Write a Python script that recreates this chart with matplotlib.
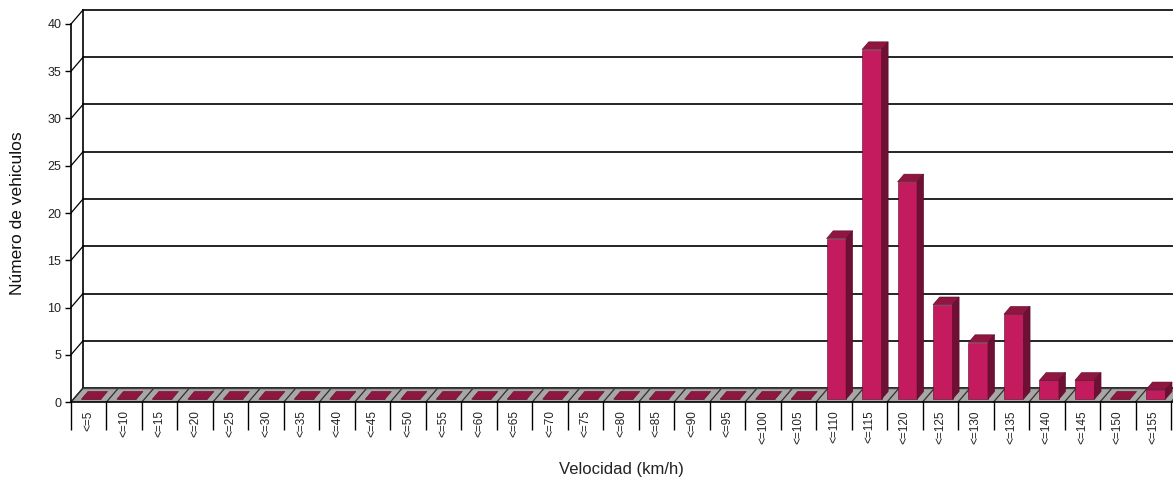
import matplotlib.pyplot as plt
import matplotlib.transforms as mtransforms
from matplotlib.patches import Polygon
import numpy as np

plt.rcParams['font.family'] = ['Liberation Sans', 'DejaVu Sans']

categories = ['<=5', '<=10', '<=15', '<=20', '<=25', '<=30', '<=35', '<=40', '<=45', '<=50',
              '<=55', '<=60', '<=65', '<=70', '<=75', '<=80', '<=85', '<=90', '<=95', '<=100',
              '<=105', '<=110', '<=115', '<=120', '<=125', '<=130', '<=135', '<=140', '<=145',
              '<=150', '<=155']
counts = [0, 0, 0, 0, 0, 0, 0, 0, 0, 0,
          0, 0, 0, 0, 0, 0, 0, 0, 0, 0,
          0, 17, 37, 23, 10, 6, 9, 2, 2, 0, 1]
yticks = [0, 5, 10, 15, 20, 25, 30, 35, 40]

front_c = '#C41B5E'
side_c = '#6E1034'
top_c = '#8E1641'
floor_c = '#A9A6A6'

fig = plt.figure(figsize=(11.73, 4.86), dpi=100)
ax = fig.add_axes([71 / 1173, 84 / 486, 1100 / 1173, 378 / 486])
n = len(categories)
ax.set_xlim(-0.5, n - 0.5)
ax.set_ylim(0, 40)
for s in ax.spines.values():
    s.set_visible(False)

# depth offset of the pseudo 3D box, in pixels
DX, DY = 12, 14


def shifted(frac):
    return ax.transData + mtransforms.ScaledTranslation(DX * frac / 100, DY * frac / 100,
                                                         fig.dpi_scale_trans)


back = shifted(1.0)
xl = ax.get_xlim()

# back wall gridlines and left wall edge
for t in yticks:
    ax.plot([xl[0], xl[1] + 1], [t, t], color='black', lw=1.2, transform=back, clip_on=False)
    p0 = ax.transData.transform((xl[0], t))
    p1 = back.transform((xl[0], t))
    ax.plot([p0[0], p1[0]], [p0[1], p1[1]], color='black', lw=0.9,
            transform=None, clip_on=False)
ax.plot([xl[0], xl[0]], [0, 40], color='black', lw=1.2, transform=back, clip_on=False)

# floor
f0 = ax.transData.transform((xl[0], 0))
f1 = ax.transData.transform((xl[1] + 1, 0))
floor = Polygon([f0, f1, (f1[0] + DX, f1[1] + DY), (f0[0] + DX, f0[1] + DY)],
                closed=True, facecolor=floor_c, edgecolor='none', transform=None, clip_on=False)
ax.add_patch(floor)
for b in np.arange(-0.5, n + 0.5, 1.0):
    q = ax.transData.transform((b, 0))
    ax.plot([q[0], q[0] + DX], [q[1], q[1] + DY], color='#303030', lw=0.9,
            transform=None, clip_on=False)
ax.plot([xl[0], xl[1] + 1], [0, 0], color='#404040', lw=1, transform=back, clip_on=False)

# front axes lines
ax.plot([xl[0], xl[0]], [0, 40], color='black', lw=1.2, clip_on=False)
ax.plot([xl[0], xl[1] + 1], [0, 0], color='black', lw=1.2, clip_on=False)

# bars in pseudo 3D
w = 0.55
d0, d1 = 0.2, 0.75
for i, v in enumerate(counts):
    ax.bar(i, v, width=w, color=front_c, edgecolor='#5a0a28', linewidth=0.4,
           transform=shifted(d0), zorder=3)
    a = shifted(d0).transform([(i - w / 2, v), (i + w / 2, v), (i + w / 2, 0)])
    ddx, ddy = DX * (d1 - d0), DY * (d1 - d0)
    top = Polygon([a[0], a[1], (a[1][0] + ddx, a[1][1] + ddy), (a[0][0] + ddx, a[0][1] + ddy)],
                  closed=True, facecolor=top_c, edgecolor='#5a0a28', lw=0.4,
                  transform=None, zorder=3, clip_on=False)
    ax.add_patch(top)
    if v > 0:
        side = Polygon([a[2], a[1], (a[1][0] + ddx, a[1][1] + ddy), (a[2][0] + ddx, a[2][1] + ddy)],
                       closed=True, facecolor=side_c, edgecolor='#5a0a28', lw=0.4,
                       transform=None, zorder=3, clip_on=False)
        ax.add_patch(side)

# ticks and labels
ax.set_yticks(yticks)
ax.set_yticklabels([str(t) for t in yticks], fontsize=9, color='#222222')
ax.tick_params(axis='y', length=4, width=1, pad=3)
ax.set_xticks(range(n))
ax.set_xticklabels(categories, rotation=90, fontsize=8.5, color='#222222')
ax.set_xticks(np.arange(-0.5, n, 1.0), minor=True)
ax.tick_params(axis='x', which='major', length=0, pad=6)
ax.tick_params(axis='x', which='minor', length=20, width=1, direction='out')

ax.set_xlabel('Velocidad (km/h)', fontsize=12, color='#222222', labelpad=13)
ax.set_ylabel('Número de vehiculos', fontsize=12.5, color='#111111', labelpad=16)

fig.savefig('out.png', dpi=100)
